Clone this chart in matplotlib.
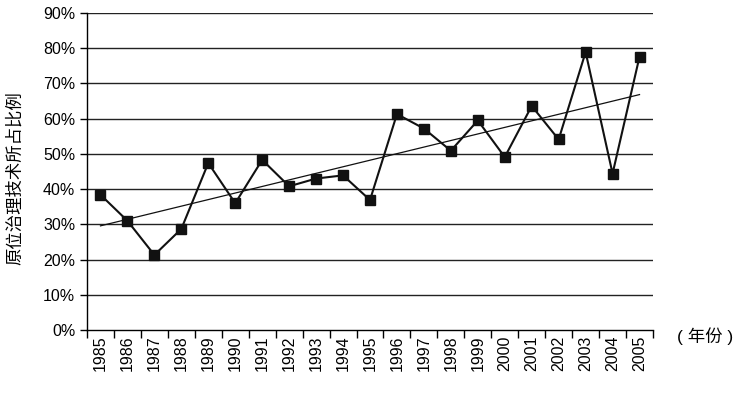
import matplotlib
matplotlib.use("Agg")
import matplotlib.pyplot as plt
import numpy as np

plt.rcParams['font.family'] = ['Liberation Sans', 'Noto Sans CJK SC', 'DejaVu Sans']

years = ['1985', '1986', '1987', '1988', '1989', '1990', '1991', '1992', '1993', '1994', '1995',
         '1996', '1997', '1998', '1999', '2000', '2001', '2002', '2003', '2004', '2005']
share = [38.4, 31.0, 21.3, 28.7, 47.4, 36.0, 48.3, 40.8, 43.0, 43.9, 36.9,
         61.3, 57.2, 50.9, 59.5, 49.1, 63.6, 54.1, 78.9, 44.4, 77.6]
y_ticks = [0, 10, 20, 30, 40, 50, 60, 70, 80, 90]

x = np.arange(len(years))
fit = np.polyfit(x, share, 1)  # linear trend line

fig = plt.figure(figsize=(7.34, 3.94), dpi=100)
ax = fig.add_axes([87/734, 64/394, 566/734, 317/394])

for v in y_ticks[1:]:
    ax.axhline(v, color='#222222', lw=1.0, zorder=1)
ax.plot(x, np.polyval(fit, x), color='#111111', lw=0.9, zorder=2)
ax.plot(x, share, color='#111111', lw=1.5, marker='s', markersize=6.5, zorder=3)

ax.set_xlim(-0.5, len(years) - 0.5)
ax.set_ylim(0, 90)
ax.set_yticks(y_ticks)
ax.set_yticklabels([f'{v}%' for v in y_ticks], fontsize=11.5)
ax.set_xticks(np.arange(-0.5, len(years)), [''] * (len(years) + 1))
ax.set_xticks(x, years, minor=True, rotation=90, fontsize=11.5)
ax.tick_params(axis='x', which='major', direction='out', length=6, width=1)
ax.tick_params(axis='x', which='minor', length=0, pad=4)
ax.tick_params(axis='y', direction='out', length=5, width=1)
for s in ['top', 'right']:
    ax.spines[s].set_visible(False)
for s in ['left', 'bottom']:
    ax.spines[s].set_linewidth(1.0)

ax.set_ylabel('原位治理技术所占比例', fontsize=12.5)
ax.yaxis.set_label_coords(-64/566, 0.478)
fig.text(705/734, 1 - 336/394, '( 年份 )', fontsize=12.5, ha='center', va='center')

fig.savefig('out.png', dpi=100)
